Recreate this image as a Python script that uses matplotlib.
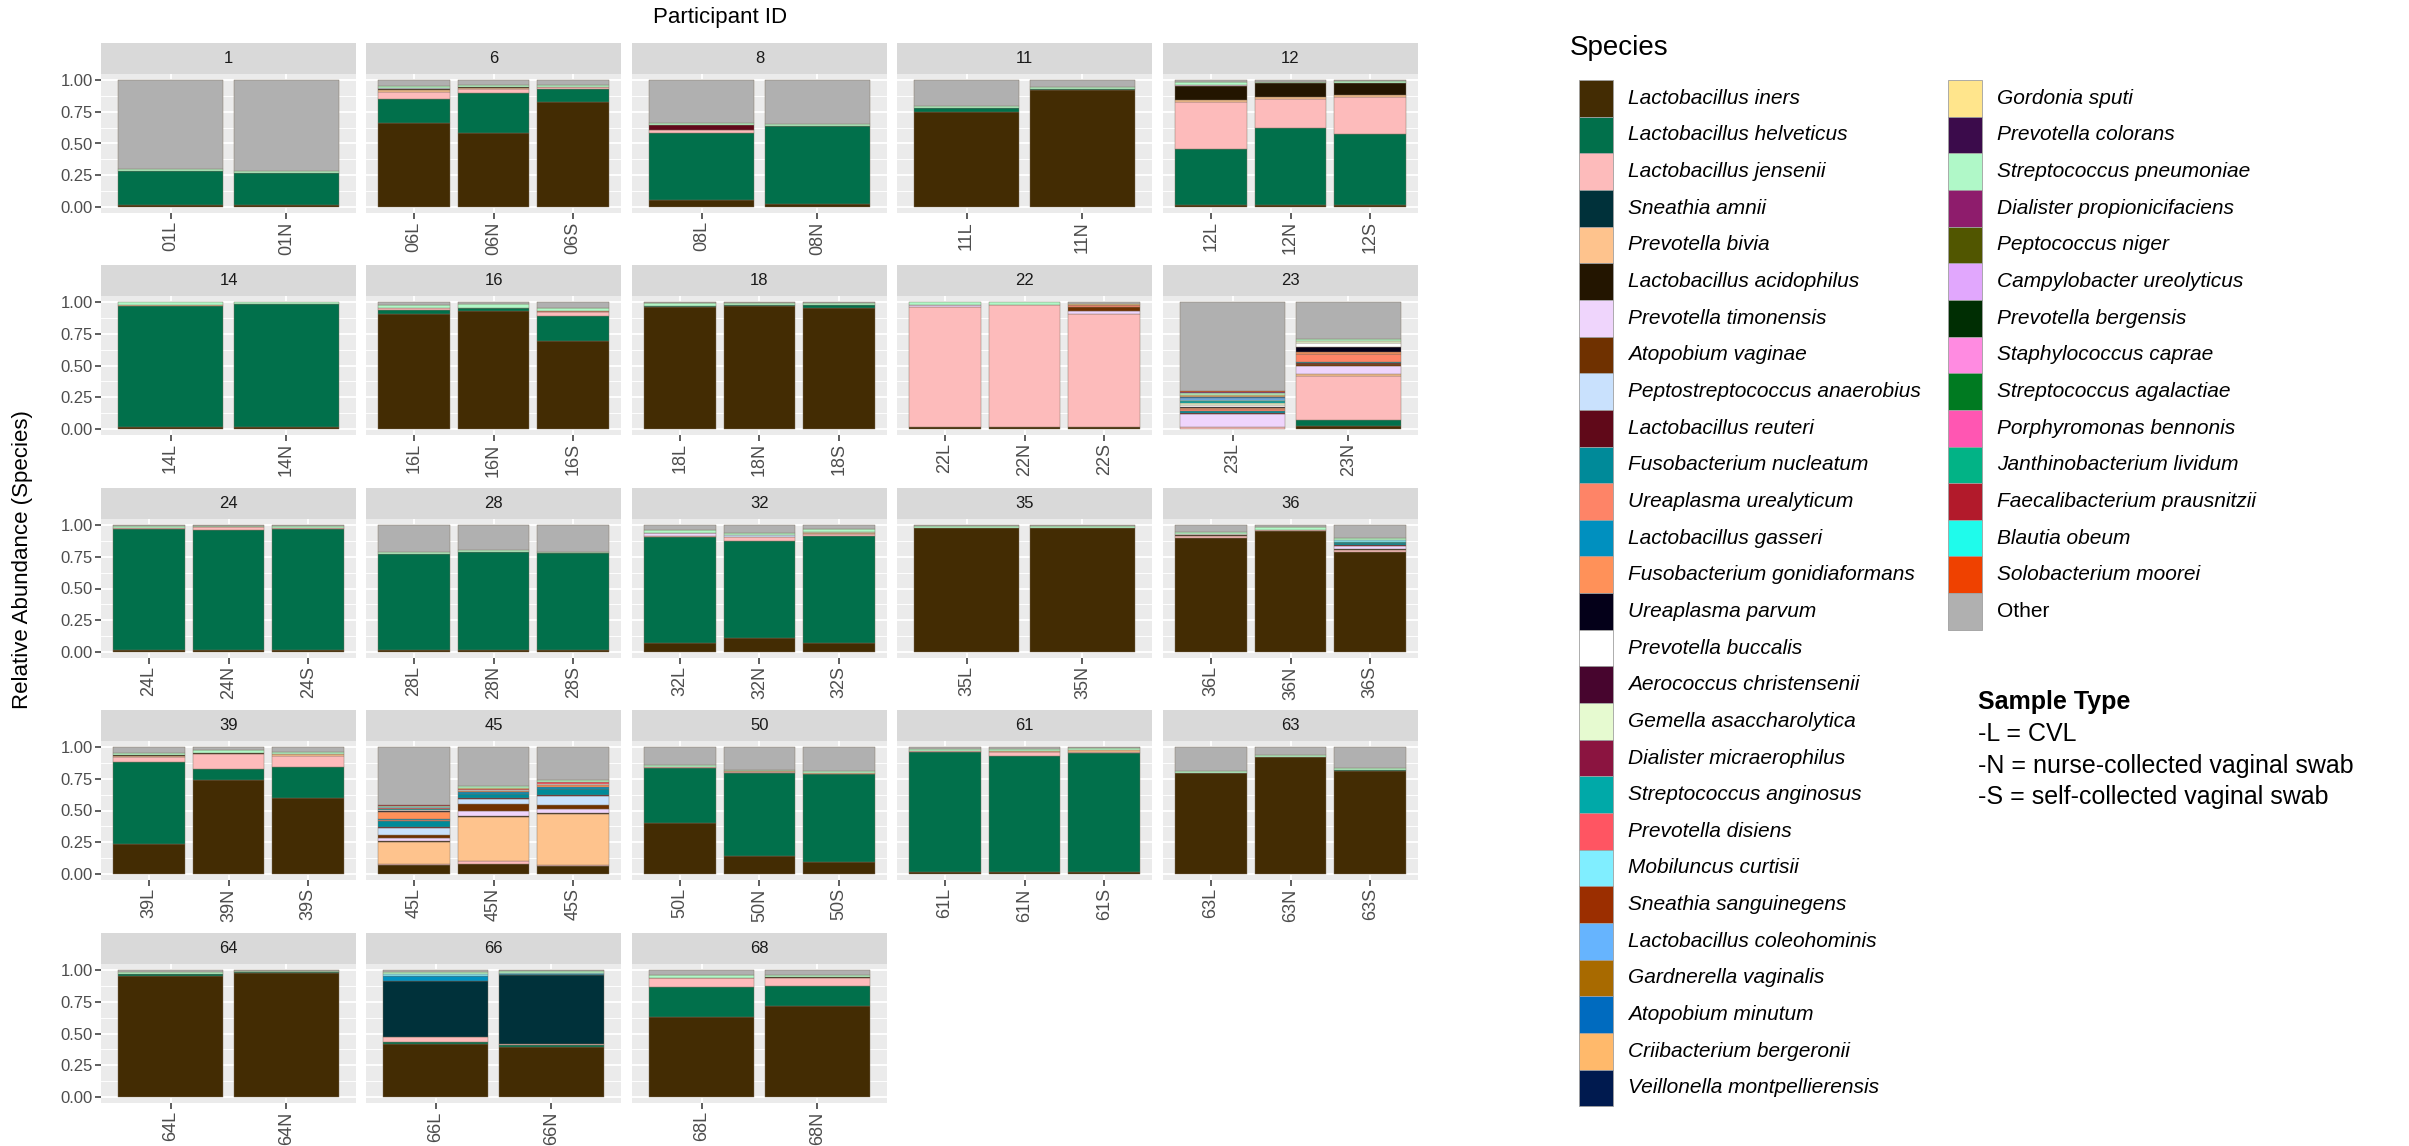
import numpy as np
import matplotlib
matplotlib.use("Agg")
import matplotlib.pyplot as plt
from matplotlib.patches import Rectangle

plt.rcParams['font.family'] = ['Liberation Sans', 'DejaVu Sans']

# Species in stacking / legend order (first = bottom of every bar)
species = [
    "Lactobacillus iners", "Lactobacillus helveticus", "Lactobacillus jensenii",
    "Sneathia amnii", "Prevotella bivia", "Lactobacillus acidophilus",
    "Prevotella timonensis", "Atopobium vaginae", "Peptostreptococcus anaerobius",
    "Lactobacillus reuteri", "Fusobacterium nucleatum", "Ureaplasma urealyticum",
    "Lactobacillus gasseri", "Fusobacterium gonidiaformans", "Ureaplasma parvum",
    "Prevotella buccalis", "Aerococcus christensenii", "Gemella asaccharolytica",
    "Dialister micraerophilus", "Streptococcus anginosus", "Prevotella disiens",
    "Mobiluncus curtisii", "Sneathia sanguinegens", "Lactobacillus coleohominis",
    "Gardnerella vaginalis", "Atopobium minutum", "Criibacterium bergeronii",
    "Veillonella montpellierensis",
    "Gordonia sputi", "Prevotella colorans", "Streptococcus pneumoniae",
    "Dialister propionicifaciens", "Peptococcus niger", "Campylobacter ureolyticus",
    "Prevotella bergensis", "Staphylococcus caprae", "Streptococcus agalactiae",
    "Porphyromonas bennonis", "Janthinobacterium lividum", "Faecalibacterium prausnitzii",
    "Blautia obeum", "Solobacterium moorei", "Other",
]
colors = [
    "#432c03", "#01704b", "#fdbbbb", "#00313a", "#fec38d", "#231500",
    "#efd5fc", "#6f3100", "#c9e1fd", "#600919", "#008a99", "#fe8467",
    "#0090bf", "#ff9159", "#040019", "#ffffff", "#47052e", "#e6fad0",
    "#8b1440", "#00a9a8", "#ff5562", "#80eeff", "#9b2e00", "#66b4fe",
    "#a86a00", "#006bbf", "#ffb96b", "#001a4f",
    "#ffe58c", "#3b0b4b", "#b0f8c8", "#8e1c6c", "#515600", "#e1a7fd",
    "#002e03", "#ff8be1", "#007a21", "#ff56b2", "#02b386", "#b21a2b",
    "#1ffbeb", "#ef4100", "#b0b0b0",
]

participants = ["1", "6", "8", "11", "12", "14", "16", "18", "22", "23",
                "24", "28", "32", "35", "36", "39", "45", "50", "61", "63",
                "64", "66", "68"]

samples = [
    "01L", "01N", "06L", "06N", "06S", "08L", "08N", "11L", "11N", "12L", "12N", "12S",
    "14L", "14N", "16L", "16N", "16S", "18L", "18N", "18S", "22L", "22N", "22S", "23L", "23N",
    "24L", "24N", "24S", "28L", "28N", "28S", "32L", "32N", "32S", "35L", "35N", "36L", "36N", "36S",
    "39L", "39N", "39S", "45L", "45N", "45S", "50L", "50N", "50S", "61L", "61N", "61S", "63L", "63N", "63S",
    "64L", "64N", "66L", "66N", "68L", "68N",
]

# relative abundance of the common taxa, one value per sample (same order as samples)
iners = [.010, .010, .660, .580, .830, .050, .025, .750, .920, .010, .010, .010,
         .010, .010, .910, .935, .690, .965, .973, .955, .010, .010, .010, .000, .020,
         .010, .010, .010, .010, .010, .010, .067, .112, .068, .975, .978, .900, .955, .786,
         .233, .743, .602, .065, .079, .058, .403, .141, .092, .010, .010, .010, .794, .922, .815,
         .958, .979, .418, .392, .632, .715]
helveticus = [.270, .260, .190, .320, .100, .530, .610, .030, .010, .445, .610, .565,
              .960, .975, .030, .018, .205, .008, .007, .020, 0, 0, 0, 0, .045,
              .960, .955, .960, .765, .780, .770, .838, .765, .846, 0, 0, 0, 0, 0,
              .649, .087, .246, 0, 0, 0, .432, .655, .695, .955, .925, .946, .005, .003, .005,
              .010, .005, .018, .015, .235, .160]
jensenii = [0, 0, .060, .030, .015, .030, .005, 0, 0, .375, .235, .295,
            0, 0, .015, 0, .025, 0, 0, 0, .955, .970, .900, .015, .355,
            .012, .020, .010, 0, 0, 0, .012, .033, .020, 0, 0, .015, .005, .018,
            .038, .118, .087, .015, .018, .012, .010, .008, .005, .005, .025, .010, 0, 0, 0,
            0, 0, .034, .006, .070, .065]
bivia = [0, 0, .015, .010, .005, 0, 0, 0, 0, .015, .010, .015,
         .012, 0, 0, 0, 0, 0, 0, 0, 0, 0, 0, 0, .012,
         0, 0, 0, 0, 0, 0, 0, 0, .008, 0, 0, 0, 0, 0,
         .015, 0, .010, .170, .348, .406, 0, .005, .005, 0, .010, .015, 0, 0, 0,
         0, 0, 0, 0, 0, 0]
acidophilus = [0, 0, .005, .005, 0, 0, 0, 0, 0, .110, .110, .095,
               0, 0, 0, 0, 0, 0, 0, 0, 0, 0, 0, 0, 0,
               0, 0, 0, 0, 0, 0, 0, 0, 0, 0, 0, .005, 0, .012,
               .005, .008, .005, .008, .008, .008, 0, 0, 0, 0, 0, 0, 0, 0, 0,
               0, 0, 0, 0, .005, .005]
timonensis = [0, 0, 0, 0, 0, 0, 0, 0, 0, .010, 0, 0,
              0, 0, 0, 0, 0, 0, 0, 0, .010, 0, .020, .105, .068,
              0, 0, 0, 0, 0, 0, .020, 0, 0, 0, 0, 0, 0, .018,
              0, 0, 0, .022, .044, .026, 0, 0, 0, 0, 0, 0, 0, 0, 0,
              0, 0, 0, 0, 0, 0]
pneumoniae = [.015, .015, .015, .015, .015, .015, .015, .015, .015, .020, .015, .015,
              .018, .015, .020, .027, .020, .022, .015, .018, .018, .020, 0, .015, .020,
              .014, .012, .015, .015, .012, .012, .018, .020, .020, .020, .020, .018, .025, .020,
              .017, .022, .015, .012, .012, .012, .015, .015, .015, .020, .015, .012, .016, .015, .018,
              .015, .013, .015, .015, .018, .018]
other = [.705, .715, .045, .040, .035, .335, .345, .205, .055, .015, .010, .005,
         0, 0, .025, .015, .045, .005, .005, .007, 0, 0, .010, .701, .287,
         .004, .003, .005, .210, .198, .208, .040, .060, .033, .005, .002, .050, .015, .100,
         .043, .022, .035, .456, .308, .260, .140, .176, .188, .010, .015, .007, .185, .060, .162,
         .017, .003, .015, .003, .040, .037]

# less common taxa: (sample, species, relative abundance)
minor_taxa = [
    ("06L", "Peptostreptococcus anaerobius", .010),
    ("08L", "Lactobacillus reuteri", .040),
    ("16N", "Prevotella buccalis", .005),
    ("16S", "Ureaplasma urealyticum", .010),
    ("16S", "Prevotella buccalis", .005),
    ("22L", "Atopobium vaginae", .007),
    ("22S", "Atopobium vaginae", .035),
    ("22S", "Ureaplasma urealyticum", .010),
    ("22S", "Prevotella disiens", .007),
    ("22S", "Gordonia sputi", .008),
    ("23L", "Lactobacillus reuteri", .004),
    ("23L", "Fusobacterium nucleatum", .015),
    ("23L", "Ureaplasma urealyticum", .020),
    ("23L", "Fusobacterium gonidiaformans", .008),
    ("23L", "Ureaplasma parvum", .006),
    ("23L", "Prevotella buccalis", .015),
    ("23L", "Gemella asaccharolytica", .012),
    ("23L", "Streptococcus anginosus", .020),
    ("23L", "Mobiluncus curtisii", .010),
    ("23L", "Lactobacillus coleohominis", .010),
    ("23L", "Atopobium minutum", .010),
    ("23L", "Criibacterium bergeronii", .010),
    ("23L", "Gordonia sputi", .010),
    ("23L", "Dialister propionicifaciens", .006),
    ("23L", "Solobacterium moorei", .008),
    ("23N", "Atopobium vaginae", .010),
    ("23N", "Lactobacillus reuteri", .008),
    ("23N", "Fusobacterium nucleatum", .010),
    ("23N", "Ureaplasma urealyticum", .060),
    ("23N", "Lactobacillus gasseri", .005),
    ("23N", "Fusobacterium gonidiaformans", .010),
    ("23N", "Ureaplasma parvum", .045),
    ("23N", "Prevotella buccalis", .030),
    ("23N", "Gemella asaccharolytica", .015),
    ("32L", "Prevotella buccalis", .005),
    ("32N", "Peptostreptococcus anaerobius", .010),
    ("32S", "Gemella asaccharolytica", .005),
    ("36L", "Prevotella buccalis", .012),
    ("36S", "Lactobacillus reuteri", .008),
    ("36S", "Fusobacterium nucleatum", .018),
    ("36S", "Streptococcus anginosus", .010),
    ("36S", "Mobiluncus curtisii", .010),
    ("45L", "Atopobium vaginae", .030),
    ("45L", "Peptostreptococcus anaerobius", .050),
    ("45L", "Lactobacillus reuteri", .010),
    ("45L", "Fusobacterium nucleatum", .045),
    ("45L", "Ureaplasma urealyticum", .008),
    ("45L", "Lactobacillus gasseri", .008),
    ("45L", "Fusobacterium gonidiaformans", .060),
    ("45L", "Ureaplasma parvum", .005),
    ("45L", "Prevotella buccalis", .010),
    ("45L", "Streptococcus anginosus", .005),
    ("45L", "Prevotella disiens", .008),
    ("45L", "Mobiluncus curtisii", .005),
    ("45L", "Faecalibacterium prausnitzii", .008),
    ("45N", "Atopobium vaginae", .053),
    ("45N", "Peptostreptococcus anaerobius", .044),
    ("45N", "Lactobacillus reuteri", .008),
    ("45N", "Fusobacterium nucleatum", .030),
    ("45N", "Lactobacillus gasseri", .012),
    ("45N", "Fusobacterium gonidiaformans", .012),
    ("45N", "Prevotella buccalis", .008),
    ("45N", "Prevotella disiens", .008),
    ("45N", "Gordonia sputi", .008),
    ("45S", "Atopobium vaginae", .032),
    ("45S", "Peptostreptococcus anaerobius", .070),
    ("45S", "Lactobacillus reuteri", .008),
    ("45S", "Fusobacterium nucleatum", .048),
    ("45S", "Lactobacillus gasseri", .020),
    ("45S", "Fusobacterium gonidiaformans", .012),
    ("45S", "Prevotella buccalis", .008),
    ("45S", "Prevotella disiens", .015),
    ("45S", "Gordonia sputi", .005),
    ("66L", "Sneathia amnii", .444),
    ("66L", "Lactobacillus gasseri", .044),
    ("66L", "Mobiluncus curtisii", .012),
    ("66N", "Sneathia amnii", .553),
    ("66N", "Lactobacillus gasseri", .006),
    ("66N", "Mobiluncus curtisii", .010),
]

sample_type_notes = ["-L = CVL", "-N = nurse-collected vaginal swab",
                     "-S = self-collected vaginal swab"]

# abundance matrix: species x samples
abund = np.zeros((len(species), len(samples)))
for name, row in [("Lactobacillus iners", iners), ("Lactobacillus helveticus", helveticus),
                  ("Lactobacillus jensenii", jensenii), ("Prevotella bivia", bivia),
                  ("Lactobacillus acidophilus", acidophilus), ("Prevotella timonensis", timonensis),
                  ("Streptococcus pneumoniae", pneumoniae), ("Other", other)]:
    abund[species.index(name)] = row
for s, name, v in minor_taxa:
    abund[species.index(name), samples.index(s)] = v

W, H = 2409, 1146
fig = plt.figure(figsize=(W / 100, H / 100), dpi=100)


def fig_box(left, top, width, height):
    return [left / W, 1 - (top + height) / H, width / W, height / H]


col_left = [101, 366, 632, 897, 1163]
row_top = [74, 296, 519, 741, 964]
pw, ph, strip_h = 255, 139, 31

for i, pid in enumerate(participants):
    r, c = divmod(i, 5)
    ax = fig.add_axes(fig_box(col_left[c], row_top[r], pw, ph))
    idx = [k for k, s in enumerate(samples) if int(s[:2]) == int(pid)]
    x = np.arange(1, len(idx) + 1)
    bottom = np.zeros(len(idx))
    for j in range(len(species)):
        h = abund[j, idx]
        m = h > 0
        if m.any():
            ax.bar(x[m], h[m], 0.9, bottom=bottom[m], color=colors[j],
                   edgecolor='#7d6e5e', linewidth=0.3, zorder=2)
        bottom += h

    ax.set_facecolor('#EBEBEB')
    for sp in ax.spines.values():
        sp.set_visible(False)
    ax.set_xlim(0.4, len(idx) + 0.6)
    ax.set_ylim(-0.05, 1.05)
    ax.set_yticks([0, 0.25, 0.5, 0.75, 1.0])
    ax.set_yticks([0.125, 0.375, 0.625, 0.875], minor=True)
    ax.set_xticks(x)
    ax.grid(which='major', color='white', linewidth=1.3, zorder=0)
    ax.grid(which='minor', axis='y', color='white', linewidth=0.65, zorder=0)
    ax.set_axisbelow(True)
    ax.tick_params(which='major', length=4, width=1.1, color='#333333',
                   labelcolor='#4D4D4D', pad=2)
    ax.tick_params(which='minor', length=0)
    ax.set_xticklabels([samples[k] for k in idx], rotation=90, fontsize=13)
    if c == 0:
        ax.set_yticklabels(["0.00", "0.25", "0.50", "0.75", "1.00"], fontsize=12)
    else:
        ax.tick_params(axis='y', which='both', left=False, labelleft=False)

    # facet strip
    ax.add_patch(Rectangle((0, 1), 1, strip_h / ph, transform=ax.transAxes,
                           facecolor='#D9D9D9', edgecolor='none', clip_on=False))
    ax.text(0.5, 1 + strip_h / ph / 2, pid, transform=ax.transAxes, ha='center',
            va='center', fontsize=12, color='#1A1A1A')

fig.text(720 / W, 1 - 18 / H, "Participant ID", ha='center', va='center', fontsize=16)
fig.text(23 / W, 1 - 560 / H, "Relative Abundance (Species)", rotation=90,
         ha='center', va='center', fontsize=16)

# species legend in two columns
fig.text(1570 / W, 1 - 48 / H, "Species", ha='left', va='center', fontsize=20)
row_h, y0 = 36.65, 80
for k, (name, col) in enumerate(zip(species, colors)):
    if k < 28:
        sx, tx, rk = 1579, 1628, k
    else:
        sx, tx, rk = 1948, 1997, k - 28
    top = y0 + rk * row_h
    fig.patches.append(Rectangle((sx / W, 1 - (top + row_h) / H), 34 / W, row_h / H,
                                 transform=fig.transFigure, facecolor=col,
                                 edgecolor='#a0a0a0', linewidth=0.6))
    fig.text(tx / W, 1 - (top + row_h / 2) / H, name, ha='left', va='center',
             fontsize=15, style='normal' if name == "Other" else 'italic')

fig.text(1978 / W, 1 - 702 / H, "Sample Type", ha='left', va='center',
         fontsize=18, fontweight='bold')
for n, line in enumerate(sample_type_notes):
    fig.text(1978 / W, 1 - (734 + 31.5 * n) / H, line, ha='left', va='center', fontsize=18)

fig.savefig("out.png", dpi=100, facecolor='white')
